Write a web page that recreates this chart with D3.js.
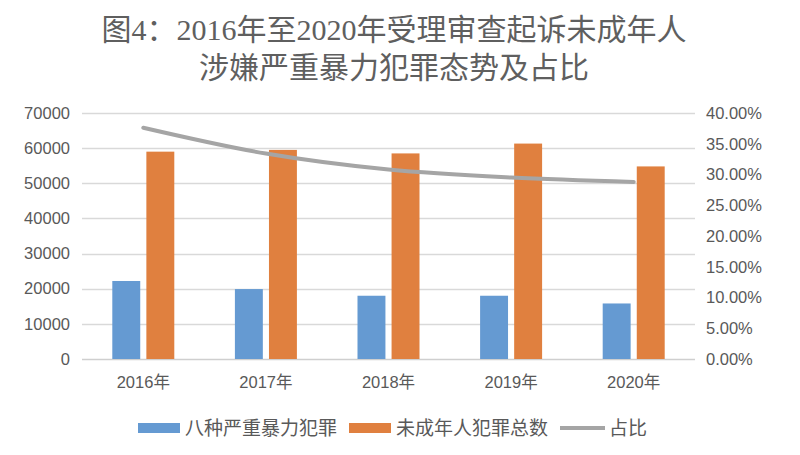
<!DOCTYPE html>
<html>
<head>
<meta charset="utf-8">
<script src="https://cdn.jsdelivr.net/npm/d3@7"></script>
<style>
  html, body { margin: 0; padding: 0; background: #fff; }
  svg { display: block; }
</style>
</head>
<body>
<svg id="chart" width="800" height="455"></svg>
<script>
const titleLines = ["图4：2016年至2020年受理审查起诉未成年人", "涉嫌严重暴力犯罪态势及占比"];
const categories = ["2016年", "2017年", "2018年", "2019年", "2020年"];
const seriesNames = ["八种严重暴力犯罪", "未成年人犯罪总数", "占比"];
const violentCrimes = [22200, 19900, 18000, 18000, 15800];
const totalCrimes = [59000, 59500, 58500, 61300, 54800];
const ratioPct = [37.6, 33.4, 30.8, 29.5, 28.8];
const leftTicks = [0, 10000, 20000, 30000, 40000, 50000, 60000, 70000];
const rightTicks = [0, 5, 10, 15, 20, 25, 30, 35, 40];

const colors = { blue: "#659ad2", orange: "#e0803f", line: "#a5a5a5", grid: "#d9d9d9", text: "#595959" };

const svg = d3.select("#chart");
const margin = { left: 82, right: 105, top: 113, bottom: 96 };
const W = 800, H = 455;
const x0 = margin.left, x1 = W - margin.right, yTop = margin.top, yBot = H - margin.bottom;

const x = d3.scaleBand().domain(categories).range([x0, x1]).padding(0);
const yL = d3.scaleLinear().domain([0, 70000]).range([yBot, yTop]);
const yR = d3.scaleLinear().domain([0, 40]).range([yBot, yTop]);

// title
svg.append("g").selectAll("text").data(titleLines).join("text")
  .attr("x", 394).attr("y", (d, i) => 40 + i * 38)
  .attr("text-anchor", "middle")
  .attr("font-family", "'Liberation Serif', 'Noto Sans CJK SC', serif")
  .attr("font-size", 30).attr("fill", "#5f5f5f")
  .text(d => d);

// gridlines
svg.append("g").selectAll("line").data(leftTicks).join("line")
  .attr("x1", x0).attr("x2", x1)
  .attr("y1", d => Math.round(yL(d)) + 0.5).attr("y2", d => Math.round(yL(d)) + 0.5)
  .attr("stroke", d => d === 0 ? "#cfcfcf" : colors.grid).attr("stroke-width", 1.3);

// left axis
const leftAxis = d3.axisLeft(yL).tickValues(leftTicks).tickSize(0).tickPadding(12).tickFormat(d3.format("d"));
const gL = svg.append("g").attr("transform", `translate(${x0},0)`).call(leftAxis);
gL.select(".domain").remove();
gL.selectAll("text").attr("font-family", "'Liberation Sans', Arial, sans-serif").attr("font-size", 16.5).attr("fill", colors.text);

// right axis
const rightAxis = d3.axisRight(yR).tickValues(rightTicks).tickSize(0).tickPadding(11).tickFormat(d => d.toFixed(2) + "%");
const gR = svg.append("g").attr("transform", `translate(${x1},0)`).call(rightAxis);
gR.select(".domain").remove();
gR.selectAll("text").attr("font-family", "'Liberation Sans', Arial, sans-serif").attr("font-size", 16.5).attr("fill", colors.text);

// bottom axis
const bottomAxis = d3.axisBottom(x).tickSize(0).tickPadding(17);
const gB = svg.append("g").attr("transform", `translate(0,${yBot})`).call(bottomAxis);
gB.select(".domain").remove();
gB.selectAll("text").attr("font-family", "'Liberation Sans', 'Noto Sans CJK SC', sans-serif").attr("font-size", 16.5).attr("fill", colors.text);

// bars
const sub = d3.scaleBand().domain([0, 1]).paddingInner(0.18);
const groups = svg.append("g").selectAll("g").data(categories).join("g")
  .attr("transform", d => `translate(${x(d) + x.bandwidth() / 2 - 31},0)`);
sub.range([0, 62]);
groups.append("rect")
  .attr("x", sub(0)).attr("width", sub.bandwidth())
  .attr("y", (d, i) => yL(violentCrimes[i])).attr("height", (d, i) => yBot - yL(violentCrimes[i]))
  .attr("fill", colors.blue);
groups.append("rect")
  .attr("x", sub(1)).attr("width", sub.bandwidth())
  .attr("y", (d, i) => yL(totalCrimes[i])).attr("height", (d, i) => yBot - yL(totalCrimes[i]))
  .attr("fill", colors.orange);

// line
const line = d3.line()
  .x((d, i) => x(categories[i]) + x.bandwidth() / 2)
  .y(d => yR(d))
  .curve(d3.curveCatmullRom.alpha(0.5));
svg.append("path").datum(ratioPct)
  .attr("d", line).attr("fill", "none")
  .attr("stroke", colors.line).attr("stroke-width", 4).attr("stroke-linecap", "round");

// legend
const legendY = 428;
const legendItems = [
  { name: seriesNames[0], type: "rect", color: colors.blue, sx: 138, tx: 185 },
  { name: seriesNames[1], type: "rect", color: colors.orange, sx: 349, tx: 396 },
  { name: seriesNames[2], type: "line", color: colors.line, sx: 560, tx: 609 }
];
const lg = svg.append("g").selectAll("g").data(legendItems).join("g");
lg.filter(d => d.type === "rect").append("rect")
  .attr("x", d => d.sx).attr("y", legendY - 5).attr("width", 42).attr("height", 10)
  .attr("fill", d => d.color);
lg.filter(d => d.type === "line").append("line")
  .attr("x1", d => d.sx).attr("x2", d => d.sx + 45).attr("y1", legendY).attr("y2", legendY)
  .attr("stroke", d => d.color).attr("stroke-width", 4);
lg.append("text")
  .attr("x", d => d.tx).attr("y", legendY).attr("dy", "0.36em")
  .attr("font-family", "'Noto Sans CJK SC', sans-serif").attr("font-size", 19)
  .attr("fill", colors.text).text(d => d.name);
</script>
</body>
</html>
